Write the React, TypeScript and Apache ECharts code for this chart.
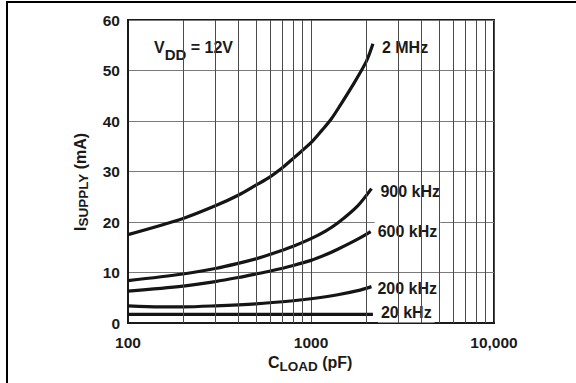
import React, { useEffect, useRef } from 'react';
import * as echarts from 'echarts';

const FONT = "'Liberation Sans', Arial, Helvetica, sans-serif";

// Axis ticks
const xTickValues = [100, 1000, 10000];
const xTickLabels = ['100', '1000', '10,000'];
const yTickLabels = ['0', '10', '20', '30', '40', '50', '60'];
const minorGridC = [200, 300, 400, 500, 600, 700, 800, 900, 2000, 3000, 4000, 5000, 6000, 7000, 8000, 9000];

// Series (C_LOAD in pF, I_SUPPLY in mA)
const seriesNames = ['2 MHz', '900 kHz', '600 kHz', '200 kHz', '20 kHz'];
const c2MHz = [100, 200, 300, 400, 500, 600, 700, 800, 1000, 1150, 1290, 1450, 1660, 2000, 2180];
const i2MHz = [17.5, 20.7, 23.2, 25.3, 27.3, 29.0, 30.8, 32.6, 35.7, 38.2, 40.4, 43.2, 46.6, 51.7, 55.3];
const c900k = [100, 200, 300, 400, 500, 600, 800, 1000, 1200, 1400, 1800, 2140];
const i900k = [8.4, 9.7, 10.8, 11.8, 12.7, 13.6, 15.2, 16.7, 18.2, 19.8, 23.2, 26.6];
const c600k = [100, 200, 300, 400, 500, 600, 800, 1000, 1200, 1400, 1800, 2120];
const i600k = [6.3, 7.3, 8.2, 9.0, 9.7, 10.3, 11.4, 12.4, 13.5, 14.6, 16.6, 18.1];
const c200k = [100, 150, 200, 300, 500, 800, 1000, 1400, 1800, 2140];
const i200k = [3.4, 3.2, 3.2, 3.4, 3.8, 4.4, 4.8, 5.6, 6.4, 7.2];
const c20k = [100, 2180];
const i20k = [1.7, 1.7];

const seriesC = [c2MHz, c900k, c600k, c200k, c20k];
const seriesI = [i2MHz, i900k, i600k, i200k, i20k];

// label placement (styling)
const labelOffsets = [[6, 4], [6, 3], [4, 0], [3, 2], [5, -2]];

function measure(text: string, size: number) {
  const ctx = document.createElement('canvas').getContext('2d')!;
  ctx.font = `bold ${size}px ${FONT}`;
  return ctx.measureText(text).width;
}

type Part = { t: string; size: number; d: number };
function rowTexts(parts: Part[]) {
  let pos = 0;
  return parts.map((p) => {
    const el: any = {
      type: 'text',
      x: pos,
      y: p.d,
      style: {
        text: p.t,
        font: `bold ${p.size}px ${FONT}`,
        fill: '#1a1a1a',
        align: 'left',
        verticalAlign: 'middle',
      },
    };
    pos += measure(p.t, p.size);
    return el;
  });
}

export default function App() {
  const ref = useRef<HTMLDivElement>(null);
  useEffect(() => {
    const chart = echarts.init(ref.current!, null, { renderer: 'svg' });
    const curves = seriesNames.map((name, k) => ({
      type: 'line',
      name,
      z: 3,
      data: seriesC[k].map((c, j) => [c, seriesI[k][j]]),
      smooth: 0.3,
      showSymbol: false,
      symbol: 'none',
      lineStyle: { color: '#151515', width: 3.2 },
      endLabel: {
        show: true,
        formatter: () => name,
        distance: 0,
        offset: labelOffsets[k],
        backgroundColor: '#ffffff',
        padding: [2, 3, 2, 3],
        color: '#1a1a1a',
        fontFamily: FONT,
        fontWeight: 'bold',
        fontSize: 16,
      },
    }));
    chart.setOption({
      animation: false,
      grid: {
        left: 128,
        right: 82,
        top: 20,
        bottom: 60,
        show: true,
        borderColor: '#1a1a1a',
        borderWidth: 2,
        backgroundColor: 'transparent',
      },
      xAxis: {
        type: 'log',
        logBase: 10,
        min: 100,
        max: 10000,
        axisLine: { show: true, lineStyle: { color: '#1a1a1a', width: 2 } },
        axisTick: { show: false },
        axisLabel: {
          margin: 11,
          fontFamily: FONT,
          fontWeight: 'bold',
          fontSize: 15.5,
          color: '#1a1a1a',
          formatter: (v: number) => {
            const i = xTickValues.findIndex((t) => Math.abs(t - v) < 1e-6 * t);
            return i >= 0 ? xTickLabels[i] : '';
          },
        },
        splitLine: { show: true, lineStyle: { color: '#4a4a4a', width: 1 } },
      },
      yAxis: {
        type: 'value',
        min: 0,
        max: 60,
        interval: 10,
        axisLine: { show: true, lineStyle: { color: '#1a1a1a', width: 2 } },
        axisTick: { show: false },
        axisLabel: {
          margin: 8,
          fontFamily: FONT,
          fontWeight: 'bold',
          fontSize: 15.5,
          color: '#1a1a1a',
          formatter: (v: number) => yTickLabels[Math.round(v / 10)] ?? '',
        },
        splitLine: { show: true, lineStyle: { color: '#7a7a7a', width: 1 } },
      },
      series: [
        {
          type: 'line',
          z: 1,
          data: [],
          silent: true,
          markLine: {
            silent: true,
            symbol: ['none', 'none'],
            label: { show: false },
            lineStyle: { color: '#4a4a4a', width: 1, type: 'solid' },
            emphasis: { disabled: true },
            data: minorGridC.map((c) => ({ xAxis: c })),
          },
        },
        ...curves,
      ],
      graphic: [
        // outer frame
        { type: 'rect', z: 100, shape: { x: 6, y: 1, width: 570, height: 2 }, style: { fill: '#000' } },
        { type: 'rect', z: 100, shape: { x: 6, y: 1, width: 2, height: 382 }, style: { fill: '#000' } },
        // VDD box
        {
          type: 'group',
          z: 100,
          children: [
            { type: 'rect', shape: { x: 147, y: 33, width: 96, height: 29 }, style: { fill: '#ffffff' } },
            {
              type: 'group',
              x: 154,
              y: 47,
              children: rowTexts([
                { t: 'V', size: 16, d: 0 },
                { t: 'DD', size: 15, d: 7 },
                { t: ' = 12V', size: 16, d: 0 },
              ]),
            },
          ],
        },
        // x axis title
        {
          type: 'group',
          z: 100,
          x: 268,
          y: 362.5,
          children: rowTexts([
            { t: 'C', size: 16, d: 0 },
            { t: 'LOAD', size: 13.5, d: 3.5 },
            { t: ' (pF)', size: 16, d: 0 },
          ]),
        },
        // y axis title (rotated)
        {
          type: 'group',
          z: 100,
          x: 80,
          y: 231,
          rotation: Math.PI / 2,
          children: rowTexts([
            { t: 'I', size: 16, d: 0 },
            { t: 'SUPPLY', size: 13.5, d: 3.5 },
            { t: ' (mA)', size: 16, d: 0 },
          ]),
        },
      ],
    });
    return () => chart.dispose();
  }, []);
  return (
    <div
      ref={ref}
      style={{ position: 'absolute', left: 0, top: 0, width: 576, height: 383, background: '#fff' }}
    />
  );
}
